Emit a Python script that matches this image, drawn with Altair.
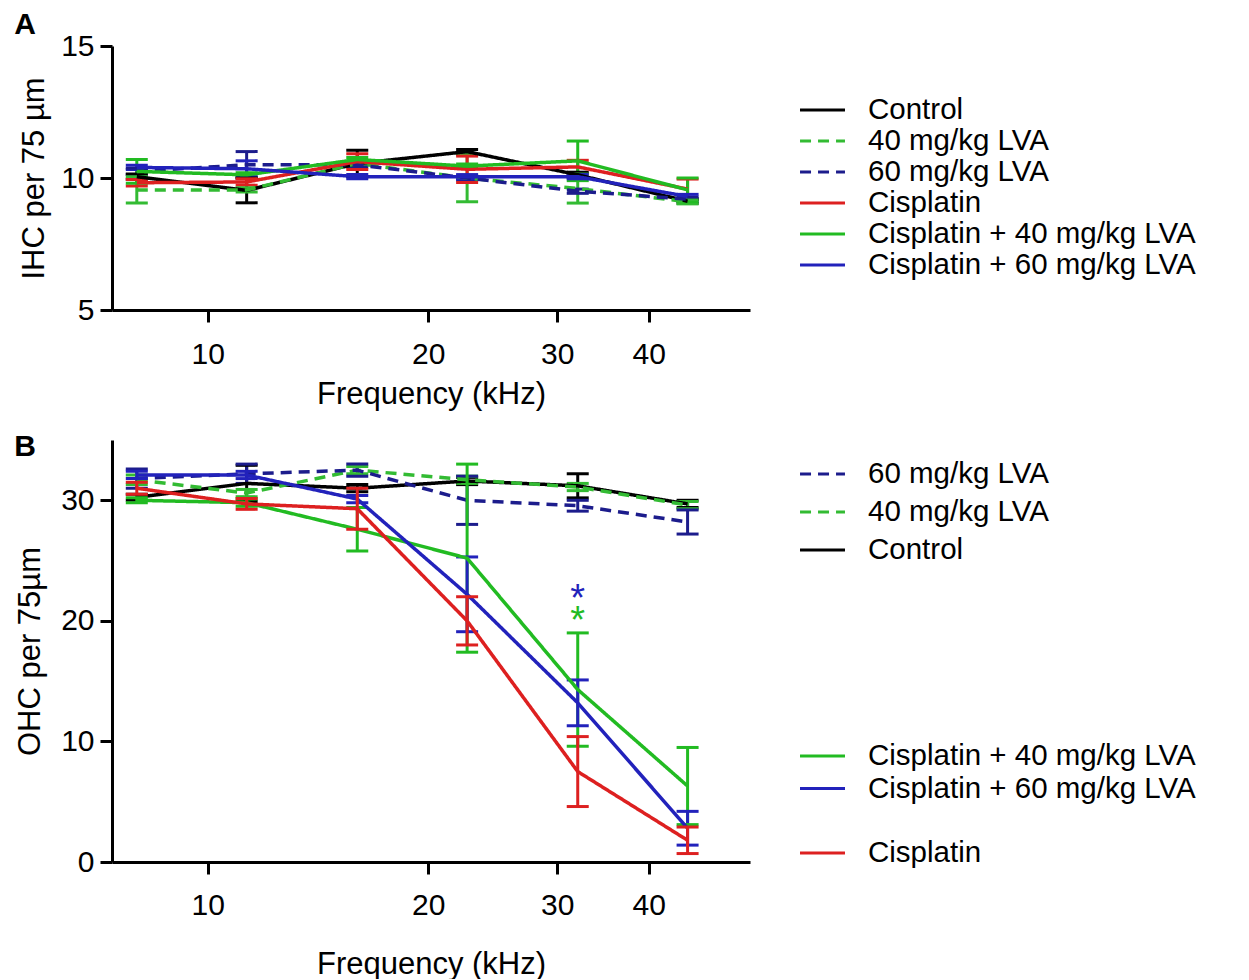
import altair as alt
import pandas as pd

# ---------------- data ----------------
FREQ = [8, 11.3, 16, 22.6, 32, 45.2]
X_TICKS = [10, 20, 30, 40]
X_DOMAIN = [7.4, 55]

SERIES = ["Control", "40 mg/kg LVA", "60 mg/kg LVA", "Cisplatin",
          "Cisplatin + 40 mg/kg LVA", "Cisplatin + 60 mg/kg LVA"]

# Panel A: IHC per 75 um (mean and error)
A_CONTROL = [10.05, 9.53, 10.55, 11.0, 10.12, 9.12]
A_CONTROL_ERR = [0.1, 0.47, 0.5, 0.08, 0.1, 0.08]
A_LVA40 = [9.55, 9.55, 10.55, 10.0, 9.6, 9.1]
A_LVA40_ERR = [0.5, 0.08, 0.08, 0.9, 0.55, 0.08]
A_LVA60 = [10.25, 10.5, 10.5, 10.0, 9.5, 9.2]
A_LVA60_ERR = [0.12, 0.5, 0.08, 0.08, 0.08, 0.08]
A_CIS = [9.82, 9.85, 10.62, 10.33, 10.42, 9.58]
A_CIS_ERR = [0.12, 0.12, 0.3, 0.5, 0.25, 0.38]
A_CIS40 = [10.25, 10.12, 10.7, 10.45, 10.65, 9.55]
A_CIS40_ERR = [0.45, 0.08, 0.08, 0.08, 0.75, 0.45]
A_CIS60 = [10.4, 10.35, 10.05, 10.05, 10.05, 9.3]
A_CIS60_ERR = [0.08, 0.3, 0.08, 0.08, 0.08, 0.08]

# Panel B: OHC per 75 um (mean and error)
B_CONTROL = [30.25, 31.4, 31.0, 31.6, 31.2, 29.7]
B_CONTROL_ERR = [0.25, 1.5, 0.3, 0.3, 1.0, 0.3]
B_LVA40 = [31.7, 30.6, 32.5, 31.7, 31.1, 29.6]
B_LVA40_ERR = [0.4, 0.3, 0.3, 0.3, 0.3, 0.3]
B_LVA60 = [31.8, 32.2, 32.5, 30.0, 29.55, 28.2]
B_LVA60_ERR = [0.8, 0.8, 0.5, 2.0, 0.45, 1.0]
B_CIS = [31.0, 29.7, 29.3, 20.0, 7.5, 1.8]
B_CIS_ERR = [0.5, 0.45, 1.7, 2.0, 2.9, 1.1]
B_CIS40 = [30.0, 29.8, 27.6, 25.2, 14.3, 6.3]
B_CIS40_ERR = [0.2, 0.3, 1.8, 7.8, 4.7, 3.2]
B_CIS60 = [32.1, 32.1, 30.1, 22.2, 13.2, 2.8]
B_CIS60_ERR = [0.3, 0.3, 0.3, 3.1, 1.9, 1.4]

# significance stars in panel B
STAR_SERIES = ["Cisplatin + 60 mg/kg LVA", "Cisplatin + 40 mg/kg LVA"]
STAR_FREQ = [32, 32]
STAR_Y = [22.6, 20.7]
STAR_TEXT = ["*", "*"]

B_GROUPS = [
    ["60 mg/kg LVA", "40 mg/kg LVA", "Control"],
    ["Cisplatin + 40 mg/kg LVA", "Cisplatin + 60 mg/kg LVA"],
    ["Cisplatin"],
]

PANEL_LABELS = ["A", "B"]

# ---------------- style ----------------
FONT = "Liberation Sans"
COLOR = {
    "Control": "#000000",
    "40 mg/kg LVA": "#33bb33",
    "60 mg/kg LVA": "#1c1c8c",
    "Cisplatin": "#dd2020",
    "Cisplatin + 40 mg/kg LVA": "#22bb22",
    "Cisplatin + 60 mg/kg LVA": "#2222bb",
}
DASH = {
    "Control": [1, 0],
    "40 mg/kg LVA": [11, 7],
    "60 mg/kg LVA": [11, 7],
    "Cisplatin": [1, 0],
    "Cisplatin + 40 mg/kg LVA": [1, 0],
    "Cisplatin + 60 mg/kg LVA": [1, 0],
}
PLOT_W = 638
A_H = 264
B_H = 422
LEGEND_SYMBOL = "M-1.55,0H1.55"


def long_df(means, errs):
    rows = []
    for name, m, e in zip(SERIES, means, errs):
        for f, mv, ev in zip(FREQ, m, e):
            rows.append({"series": name, "freq": f, "mean": mv,
                         "lo": mv - ev, "hi": mv + ev})
    return pd.DataFrame(rows)


dfA = long_df([A_CONTROL, A_LVA40, A_LVA60, A_CIS, A_CIS40, A_CIS60],
              [A_CONTROL_ERR, A_LVA40_ERR, A_LVA60_ERR, A_CIS_ERR, A_CIS40_ERR, A_CIS60_ERR])
dfB = long_df([B_CONTROL, B_LVA40, B_LVA60, B_CIS, B_CIS40, B_CIS60],
              [B_CONTROL_ERR, B_LVA40_ERR, B_LVA60_ERR, B_CIS_ERR, B_CIS40_ERR, B_CIS60_ERR])
dfStars = pd.DataFrame({"series": STAR_SERIES, "freq": STAR_FREQ,
                        "y": STAR_Y, "t": STAR_TEXT})


def make_x(label_pad, title_pad):
    return alt.X("freq:Q",
                 scale=alt.Scale(type="log", domain=X_DOMAIN, nice=False),
                 axis=alt.Axis(title="Frequency (kHz)", values=X_TICKS, format="d",
                               tickSize=12, labelPadding=label_pad, titlePadding=title_pad,
                               labelFlush=False, grid=False))


def make_y_fn(title, domain, ticks, title_pad):
    scale = alt.Scale(domain=domain, nice=False, zero=False)
    axis = alt.Axis(title=title, values=ticks, tickSize=12, labelPadding=6,
                    titlePadding=title_pad, grid=False, labelFlush=False)

    def f(field):
        return alt.Y(field + ":Q", scale=scale, axis=axis)
    return f


def make_legend(ly, row_pad):
    return alt.Legend(orient="none", legendX=694.5, legendY=ly, title=None,
                      symbolType=LEGEND_SYMBOL, symbolSize=841, symbolStrokeWidth=3,
                      symbolFillColor="transparent", symbolOpacity=1,
                      labelFontSize=29.5, labelFont=FONT, labelColor="black",
                      labelOffset=29.5, labelLimit=600, rowPadding=row_pad, padding=0)


def series_layers(df, names, xenc, yfn, legend, extra=None):
    sub = df[df["series"].isin(names)]
    cscale = alt.Scale(domain=names, range=[COLOR[n] for n in names])
    dscale = alt.Scale(domain=names, range=[DASH[n] for n in names])
    base = alt.Chart(sub)
    col = alt.Color("series:N", scale=cscale, legend=legend)
    err = base.mark_rule(strokeWidth=3, opacity=1).encode(
        x=xenc, y=yfn("lo"), y2="hi:Q", color=col)
    cap_lo = base.mark_tick(orient="horizontal", size=22, thickness=3, opacity=1).encode(
        x=xenc, y=yfn("lo"), color=col)
    cap_hi = base.mark_tick(orient="horizontal", size=22, thickness=3, opacity=1).encode(
        x=xenc, y=yfn("hi"), color=col)
    line = base.mark_line(strokeWidth=3.5, opacity=1).encode(
        x=xenc, y=yfn("mean"), color=col,
        strokeDash=alt.StrokeDash("series:N", scale=dscale, legend=legend))
    layers = [err, cap_lo, cap_hi, line]
    if extra is not None:
        layers.append(extra.encode(x=xenc, y=yfn("y"), text="t:N", color=col))
    return alt.layer(*layers)


def panel_label(i, yv):
    return alt.Chart(pd.DataFrame({"t": [PANEL_LABELS[i]]})).mark_text(
        font=FONT, fontSize=30, fontWeight="bold", align="center",
        baseline="middle", color="black").encode(
        text="t:N", x=alt.value(-87), y=alt.value(yv))


# ---------------- panel A ----------------
xA = make_x(17, 10)
yA = make_y_fn("IHC per 75 µm", [5, 15], [5, 10, 15], 10)
panelA = alt.layer(
    series_layers(dfA, SERIES, xA, yA, make_legend(48, 0)),
    panel_label(0, -21),
).properties(width=PLOT_W, height=A_H)

# ---------------- panel B ----------------
xB = make_x(16, 29)
yB = make_y_fn("OHC per 75µm", [0, 35], [0, 10, 20, 30], 14)
stars = alt.Chart(dfStars).mark_text(font=FONT, fontSize=38, baseline="middle", dy=10)
panelB = alt.layer(
    series_layers(dfB, B_GROUPS[0], xB, yB, make_legend(18, 7)),
    series_layers(dfB, B_GROUPS[1], xB, yB, make_legend(300, 1.5), extra=stars),
    series_layers(dfB, B_GROUPS[2], xB, yB, make_legend(397, 0)),
    panel_label(1, 7),
).resolve_scale(color="independent", strokeDash="independent").properties(
    width=PLOT_W, height=B_H)

chart = alt.vconcat(panelA, panelB, spacing=23).properties(
    padding={"left": 6, "top": 2, "right": 5, "bottom": 0}
).configure_view(stroke=None).configure_axis(
    domainColor="black", domainWidth=3, tickColor="black", tickWidth=3,
    labelColor="black", titleColor="black", labelFont=FONT, titleFont=FONT,
    labelFontSize=30, titleFontSize=31, titleFontWeight="normal", grid=False
).configure_legend(labelFont=FONT, labelColor="black")

chart.save("out.html", embed_options={"renderer": "svg", "actions": False})
